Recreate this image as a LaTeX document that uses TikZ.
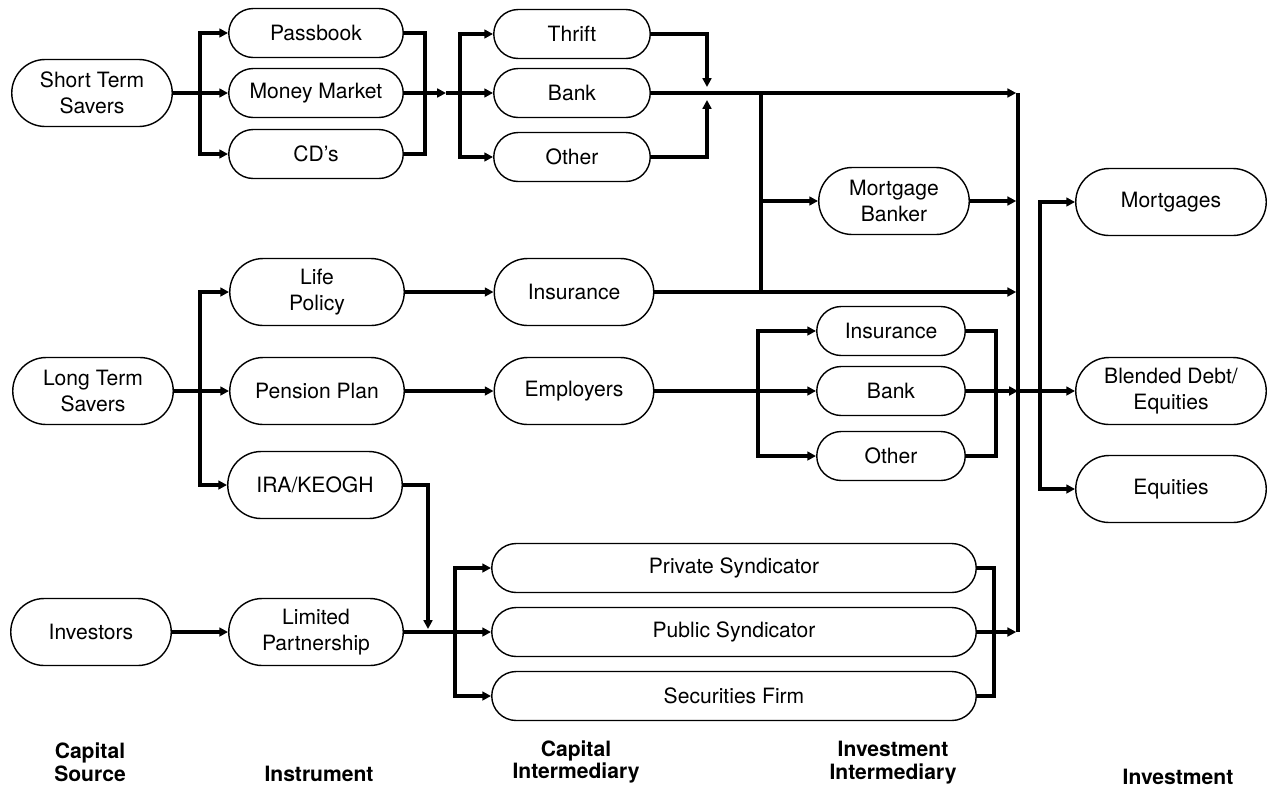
\documentclass[tikz,border=0pt]{standalone}
\usepackage{fontspec}
\setmainfont{TeX Gyre Heros}
\usepackage{tikz}
\usetikzlibrary{shapes.misc, arrows.meta}

\tikzset{
  box/.style={draw, rounded rectangle, line width=0.8pt, align=center, inner sep=1pt,
              minimum height=9.8mm, font=\fontsize{12}{14.5}\selectfont},
  tall/.style={minimum height=13.4mm},
  flow/.style={line width=2.2pt},
  arrowed/.style={-{Triangle[length=5pt, width=5pt]}},
  heading/.style={align=center, font=\fontsize{12}{13}\selectfont\bfseries}
}

\begin{document}
\begin{tikzpicture}[x=0.2mm, y=-0.2mm]

\useasboundingbox (0, 0) rectangle (1270, 787);

% draw capital sources
\node[box, tall, minimum width=32.8mm] (sts) at (92, 93) {Short Term\\Savers};
\node[box, tall, minimum width=32.8mm] (lts) at (93, 391) {Long Term\\Savers};
\node[box, tall, minimum width=32.8mm] (inv) at (91, 632) {Investors};

% draw instruments
\node[box, minimum width=35.6mm] (pass) at (316, 33) {Passbook};
\node[box, minimum width=35.6mm] (mm) at (316, 93) {Money Market};
\node[box, minimum width=35.6mm] (cds) at (316, 154) {CD's};
\node[box, tall, minimum width=35.6mm] (life) at (317, 292) {Life\\Policy};
\node[box, tall, minimum width=35.6mm] (pens) at (317, 391) {Pension Plan};
\node[box, tall, minimum width=35.6mm] (ira) at (315, 485) {IRA/KEOGH};
\node[box, tall, minimum width=35.6mm] (lp) at (316, 632) {Limited\\Partnership};

% draw capital intermediaries
\node[box, minimum width=32mm] (thrift) at (572, 34) {Thrift};
\node[box, minimum width=32mm] (bank) at (572, 93) {Bank};
\node[box, minimum width=32mm] (other) at (572, 157) {Other};
\node[box, tall, minimum width=32.6mm] (ins) at (574, 292) {Insurance};
\node[box, tall, minimum width=32.6mm] (emp) at (574, 391) {Employers};
\node[box, minimum width=97.6mm] (priv) at (734, 568) {Private Syndicator};
\node[box, minimum width=97.6mm] (pub) at (734, 632) {Public Syndicator};
\node[box, minimum width=97.6mm] (sec) at (734, 696) {Securities Firm};

% draw investment intermediaries
\node[box, tall, minimum width=30.8mm] (mb) at (894, 201) {Mortgage\\Banker};
\node[box, minimum width=30.4mm] (ins2) at (891, 331) {Insurance};
\node[box, minimum width=30.4mm] (bank2) at (891, 391) {Bank};
\node[box, minimum width=30.4mm] (other2) at (891, 456) {Other};

% draw investments
\node[box, tall, minimum width=38.8mm] (mort) at (1171, 202) {Mortgages};
\node[box, tall, minimum width=38.8mm] (blend) at (1171, 391) {Blended Debt/\\Equities};
\node[box, tall, minimum width=38.8mm] (eq) at (1171, 489) {Equities};

% junctions
\coordinate (s1) at (200, 93);
\coordinate (s2) at (200, 391);
\coordinate (m1) at (425, 93);
\coordinate (m2) at (446, 93);
\coordinate (c1) at (460, 93);
\coordinate (t1) at (707, 87);
\coordinate (t2) at (707, 100);
\coordinate (k1) at (761, 93);
\coordinate (k2) at (761, 292);
\coordinate (k3) at (761, 201);
\coordinate (e1) at (758, 391);
\coordinate (r1) at (996, 391);
\coordinate (i1) at (428, 629);
\coordinate (j6) at (455, 632);
\coordinate (p1) at (994, 632);
\coordinate (f1) at (1040, 391);

% main collector
\coordinate (bA) at (1018, 93);
\coordinate (bB) at (1018, 201);
\coordinate (bC) at (1018, 292);
\coordinate (bD) at (1018, 391);
\coordinate (bE) at (1018, 632);
\draw[flow] (bA) -- (bE);

% draw short term flows
\draw[flow] (sts.east) -- (s1);
\draw[flow, arrowed] (s1) |- (pass.west);
\draw[flow, arrowed] (s1) -- (mm.west);
\draw[flow, arrowed] (s1) |- (cds.west);
\draw[flow] (pass.east) -| (m1);
\draw[flow] (cds.east) -| (m1);
\draw[flow, arrowed] (mm.east) -- (m2);
\draw[flow] (m2) -- (c1);
\draw[flow, arrowed] (c1) |- (thrift.west);
\draw[flow, arrowed] (c1) -- (bank.west);
\draw[flow, arrowed] (c1) |- (other.west);
\draw[flow, arrowed] (thrift.east) -| (t1);
\draw[flow, arrowed] (other.east) -| (t2);
\draw[flow, arrowed, shorten >=1pt] (bank.east) -- (bA);
\draw[flow] (k1) -- (k2);
\draw[flow, arrowed] (k3) -- (mb.west);
\draw[flow, arrowed, shorten >=1pt] (mb.east) -- (bB);

% draw long term flows
\draw[flow] (lts.east) -- (s2);
\draw[flow, arrowed] (s2) |- (life.west);
\draw[flow, arrowed] (s2) -- (pens.west);
\draw[flow, arrowed] (s2) |- (ira.west);
\draw[flow, arrowed] (life.east) -- (ins.west);
\draw[flow, arrowed] (pens.east) -- (emp.west);
\draw[flow, arrowed, shorten >=1pt] (ins.east) -- (bC);
\draw[flow] (emp.east) -- (e1);
\draw[flow, arrowed] (e1) |- (ins2.west);
\draw[flow, arrowed] (e1) -- (bank2.west);
\draw[flow, arrowed] (e1) |- (other2.west);
\draw[flow] (ins2.east) -| (r1);
\draw[flow] (other2.east) -| (r1);
\draw[flow, arrowed] (bank2.east) -- (bD);

% draw investor flows
\draw[flow, arrowed] (inv.east) -- (lp.west);
\draw[flow, arrowed] (ira.east) -| (i1);
\draw[flow] (lp.east) -- (j6);
\draw[flow, arrowed] (j6) |- (priv.west);
\draw[flow, arrowed] (j6) -- (pub.west);
\draw[flow, arrowed] (j6) |- (sec.west);
\draw[flow] (priv.east) -| (p1);
\draw[flow] (sec.east) -| (p1);
\draw[flow, arrowed, shorten >=1pt] (pub.east) -- (bE);

% draw outputs
\draw[flow, arrowed] (bD) -- (blend.west);
\draw[flow, arrowed] (f1) |- (mort.west);
\draw[flow, arrowed] (f1) |- (eq.west);

% draw column titles
\node[heading] (hSource) at (90, 762) {Capital\\Source};
\node[heading] (hInstr) at (319, 774) {Instrument};
\node[heading] (hCapInt) at (576, 762) {Capital\\Intermediary};
\node[heading] (hInvInt) at (893, 763) {Investment\\Intermediary};
\node[heading] (hInv) at (1178, 777) {Investment};

\end{tikzpicture}
\end{document}
